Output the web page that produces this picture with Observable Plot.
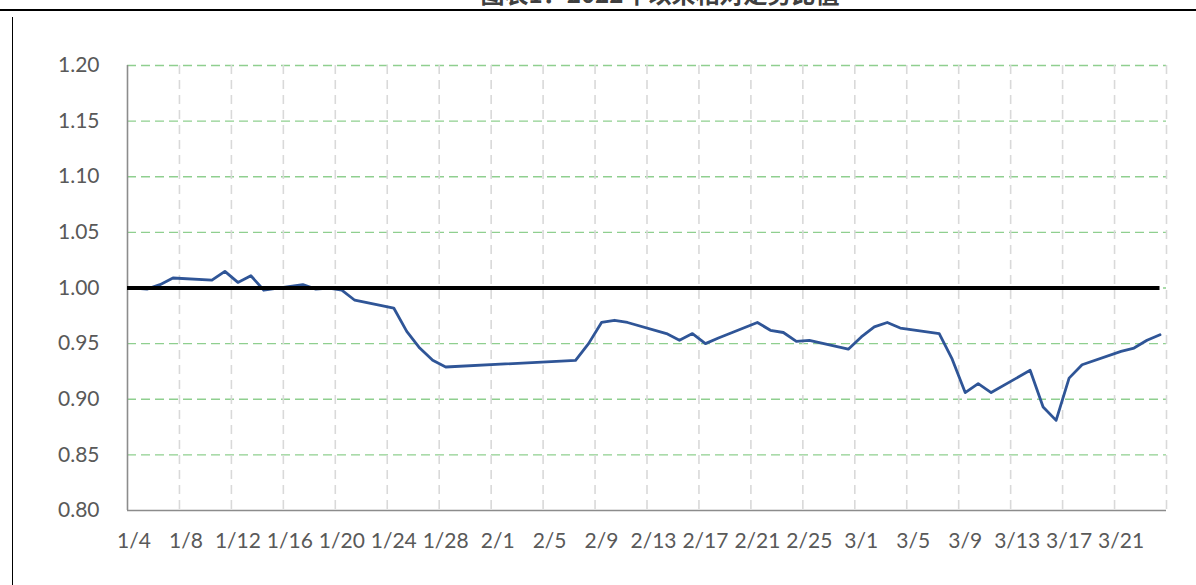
<!DOCTYPE html>
<html>
<head>
<meta charset="utf-8">
<script src="https://cdn.jsdelivr.net/npm/d3@7"></script>
<script src="https://cdn.jsdelivr.net/npm/@observablehq/plot@0.6"></script>
<style>
  html, body { margin: 0; padding: 0; background: #fff; }
  #wrap { position: relative; width: 1196px; height: 585px; overflow: hidden; }
  #title { position: absolute; left: 0; width: 1320px; top: -19px; text-align: center;
           font-family: "Noto Sans CJK SC", sans-serif; font-weight: bold; font-size: 24px; line-height: 24px; color: #404040; }
  #hline { position: absolute; left: 0; top: 9px; width: 1196px; height: 2px; background: #000; }
  #vline { position: absolute; left: 12px; top: 17px; width: 1px; height: 568px; background: #000; }
  #chart { position: absolute; left: 0; top: 0; }
</style>
</head>
<body>
<div id="wrap">
  <div id="title">图表1：2022年以来相对走势比值</div>
  <div id="hline"></div>
  <div id="vline"></div>
  <div id="chart"></div>
</div>
<script>
const year = 2022;
const dates = ["1/4","1/5","1/6","1/7","1/10","1/11","1/12","1/13","1/14",
  "1/17","1/18","1/19","1/20","1/21","1/24","1/25","1/26","1/27","1/28",
  "2/7","2/8","2/9","2/10","2/11","2/14","2/15","2/16","2/17","2/18",
  "2/21","2/22","2/23","2/24","2/25","2/28","3/1","3/2","3/3","3/4",
  "3/7","3/8","3/9","3/10","3/11","3/14","3/15","3/16","3/17","3/18",
  "3/21","3/22","3/23","3/24"];
const values = [1.000,0.999,1.003,1.009,1.007,1.015,1.005,1.011,0.998,
  1.003,0.999,1.000,0.998,0.989,0.982,0.961,0.946,0.935,0.929,
  0.935,0.950,0.969,0.971,0.969,0.959,0.953,0.959,0.950,0.955,
  0.969,0.962,0.960,0.952,0.953,0.945,0.956,0.965,0.969,0.964,
  0.959,0.936,0.906,0.914,0.906,0.926,0.893,0.881,0.919,0.931,
  0.943,0.946,0.953,0.958];
const baseline = 1.0;
const tickLabels = ["1/4","1/8","1/12","1/16","1/20","1/24","1/28","2/1","2/5","2/9",
  "2/13","2/17","2/21","2/25","3/1","3/5","3/9","3/13","3/17","3/21"];
const axisEnd = "3/25";
const yTicks = [0.80,0.85,0.90,0.95,1.00,1.05,1.10,1.15,1.20];

const parse = s => { const [m, d] = s.split("/").map(Number); return new Date(Date.UTC(year, m - 1, d)); };
const HALF = 12 * 3600 * 1000;
const mid = s => new Date(parse(s).getTime() + HALF);

const data = dates.map((d, i) => ({date: mid(d), value: values[i]}));
const start = parse(dates[0]);
const end = parse(axisEnd);
const gridDates = tickLabels.map(parse).concat([end]);
const labelDates = tickLabels.map(mid);

const chart = Plot.plot({
  width: 1196, height: 585,
  marginLeft: 127, marginRight: 30, marginTop: 65, marginBottom: 75,
  x: {type: "utc", domain: [start, end], label: null},
  y: {domain: [0.8, 1.2], label: null},
  style: {fontFamily: "Lato, sans-serif", fontSize: "21px", color: "#595959", background: "transparent"},
  marks: [
    Plot.ruleY(yTicks.filter(v => v > 0.8), {stroke: "#8fcf8f", strokeDasharray: "9,5", strokeWidth: 1.4}),
    Plot.ruleX(gridDates.slice(1), {stroke: "#d9d9d9", strokeDasharray: "9,6", strokeWidth: 1.6}),
    Plot.ruleX([start], {stroke: "#8c8c8c", strokeWidth: 1.6}),
    Plot.ruleY([0.8], {stroke: "#8c8c8c", strokeWidth: 1.6}),
    Plot.line(data, {x: "date", y: "value", stroke: "#2f5597", strokeWidth: 2.8}),
    Plot.ruleY([baseline], {x1: () => start, x2: () => data[data.length - 1].date, stroke: "#000", strokeWidth: 4}),
    Plot.axisY(yTicks, {tickSize: 0, tickPadding: 28, tickFormat: d => d.toFixed(2), fontSize: 21, fill: "#595959", label: null}),
    Plot.axisX(labelDates, {tickSize: 0, tickPadding: 23, tickFormat: d => `${d.getUTCMonth() + 1}/${d.getUTCDate()}`, fontSize: 21, fill: "#595959", label: null})
  ]
});
document.getElementById("chart").appendChild(chart);
</script>
</body>
</html>
